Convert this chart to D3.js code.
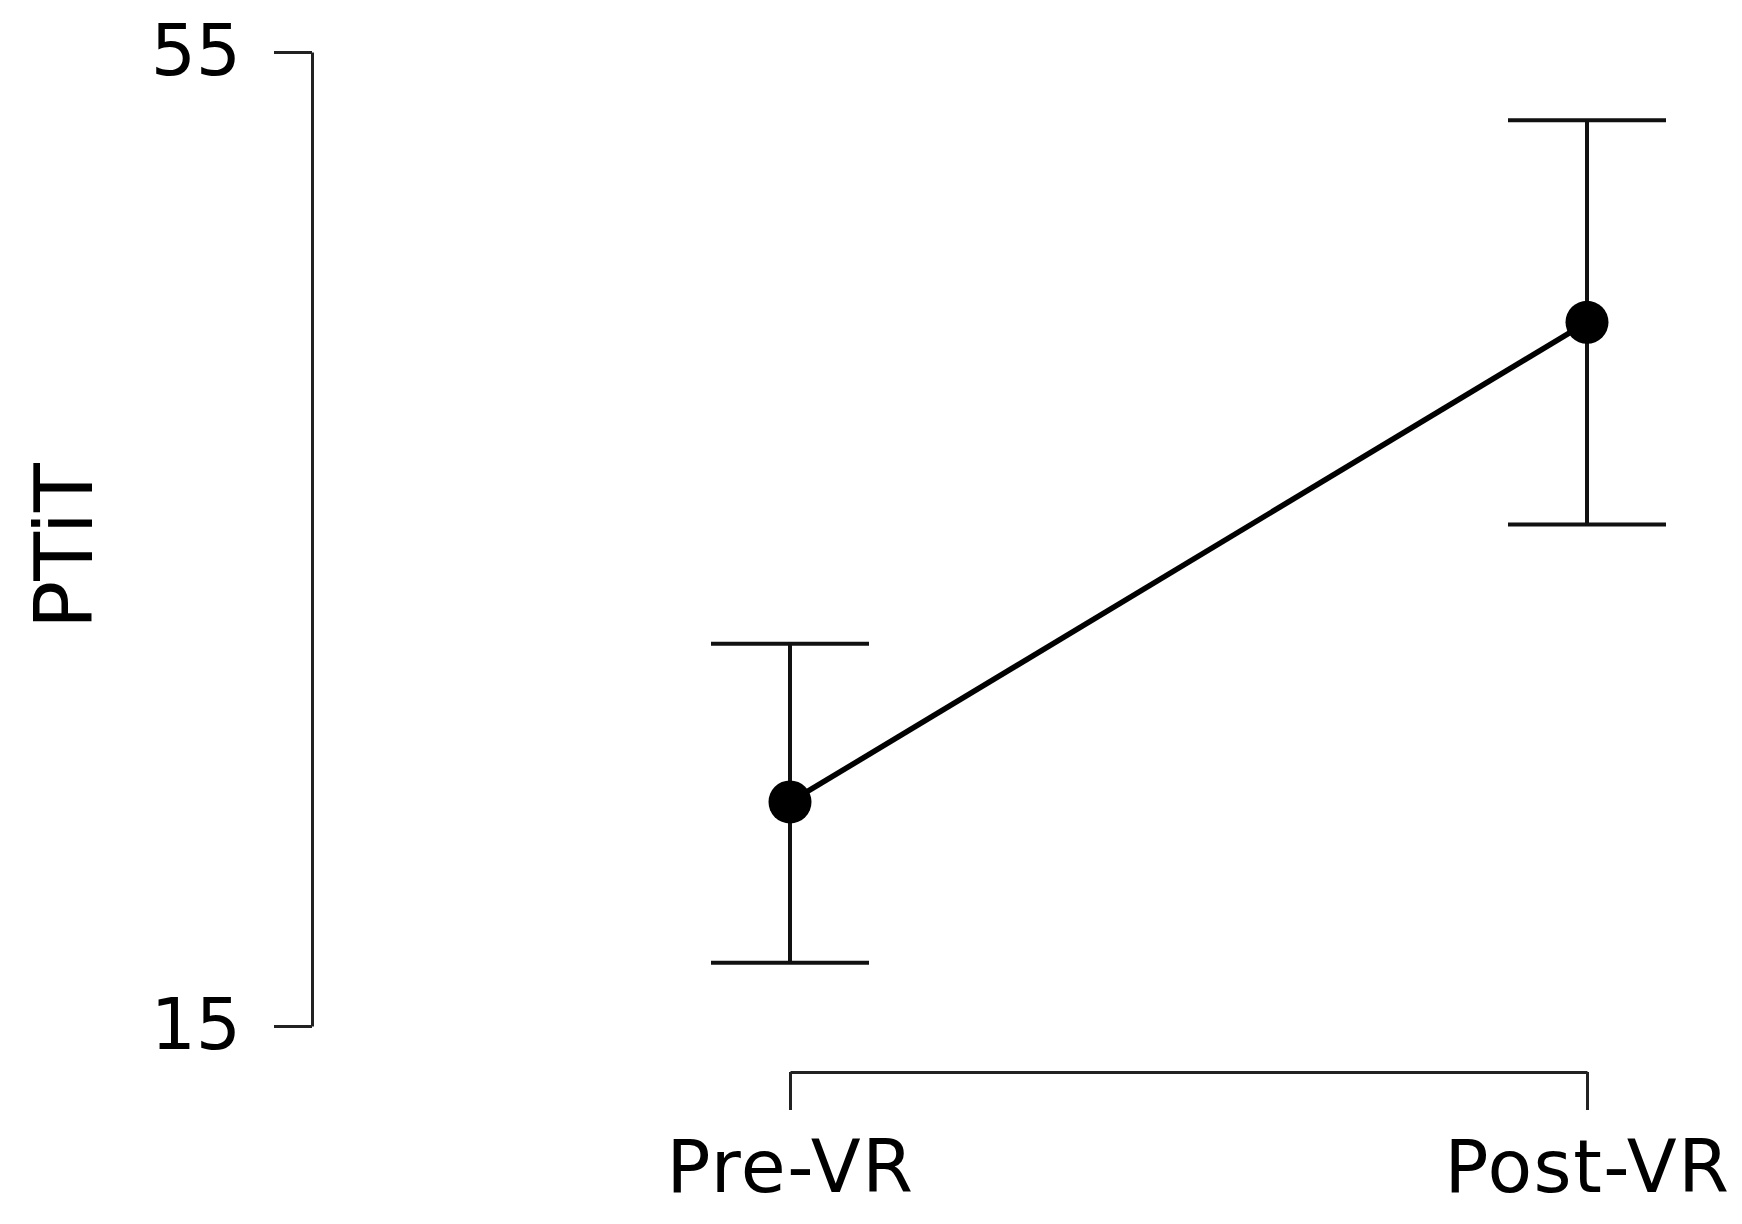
<!DOCTYPE html>
<html>
<head>
<meta charset="utf-8">
<script src="https://cdn.jsdelivr.net/npm/d3@7/dist/d3.min.js"></script>
<style>
  html, body { margin: 0; padding: 0; background: #fff; }
  svg { display: block; }
  text { font-family: "DejaVu Sans", sans-serif; fill: #000; }
</style>
</head>
<body>
<svg id="chart" width="1742" height="1224"></svg>
<script>
const categories = ["Pre-VR", "Post-VR"];
const means = [24.2, 43.9];
const upper = [30.7, 52.2];
const lower = [17.6, 35.6];
const yTicks = [15, 55];
const yLabel = "PTiT";

const svg = d3.select("#chart");
const x = d3.scalePoint().domain(categories).range([790, 1587]).padding(0);
const y = d3.scaleLinear().domain([15, 55]).range([1026, 52]);

// Y axis
const yAxis = d3.axisLeft(y).tickValues(yTicks).tickSize(38).tickSizeOuter(0).tickPadding(33);
const gy = svg.append("g").attr("transform", "translate(312,0)").call(yAxis);
gy.selectAll("path, line").attr("stroke", "#222").attr("stroke-width", 3);
gy.selectAll("text").style("font-family", "DejaVu Sans").style("font-size", "71px").attr("fill", "#000");

// X axis
const xAxis = d3.axisBottom(x).tickSize(38).tickSizeOuter(0).tickPadding(30);
const gx = svg.append("g").attr("transform", "translate(0,1072)").call(xAxis);
gx.selectAll("path, line").attr("stroke", "#222").attr("stroke-width", 3);
gx.selectAll("text").style("font-family", "DejaVu Sans").style("font-size", "73px")
  .style("letter-spacing", "1.5px").attr("fill", "#000");

// Y label
svg.append("text")
  .attr("transform", `translate(92,546) rotate(-90)`)
  .attr("text-anchor", "middle")
  .style("font-size", "80px")
  .text(yLabel);

const data = categories.map((c, i) => ({c, m: means[i], hi: upper[i], lo: lower[i]}));
const capHalf = 79;

// error bars
const eb = svg.append("g").attr("stroke", "#111").attr("stroke-width", 4);
eb.selectAll("line.v").data(data).join("line").attr("class", "v")
  .attr("x1", d => x(d.c)).attr("x2", d => x(d.c))
  .attr("y1", d => y(d.hi)).attr("y2", d => y(d.lo));
eb.selectAll("line.t").data(data).join("line").attr("class", "t")
  .attr("x1", d => x(d.c) - capHalf).attr("x2", d => x(d.c) + capHalf)
  .attr("y1", d => y(d.hi)).attr("y2", d => y(d.hi));
eb.selectAll("line.b").data(data).join("line").attr("class", "b")
  .attr("x1", d => x(d.c) - capHalf).attr("x2", d => x(d.c) + capHalf)
  .attr("y1", d => y(d.lo)).attr("y2", d => y(d.lo));

// connecting line
svg.append("path").datum(data)
  .attr("fill", "none").attr("stroke", "#000").attr("stroke-width", 5.5)
  .attr("d", d3.line().x(d => x(d.c)).y(d => y(d.m)));

// points
svg.selectAll("circle").data(data).join("circle")
  .attr("cx", d => x(d.c)).attr("cy", d => y(d.m)).attr("r", 21.5).attr("fill", "#000");
</script>
</body>
</html>
